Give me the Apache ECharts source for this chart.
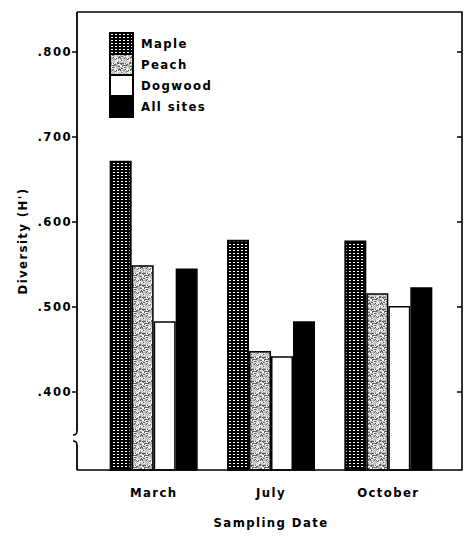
<!DOCTYPE html>
<html>
<head>
<meta charset="utf-8">
<script src="https://cdn.jsdelivr.net/npm/echarts@6/dist/echarts.min.js"></script>
<style>
  html, body { margin: 0; padding: 0; background: #fff; }
  #chart { width: 464px; height: 536px; }
  #chart text { letter-spacing: 1.4px; }
</style>
</head>
<body>
<div id="chart"></div>
<script>
// Shannon diversity (H') by sampling date and site
const categories = ['March', 'July', 'October'];
const seriesNames = ['Maple', 'Peach', 'Dogwood', 'All sites'];
const maple = [0.672, 0.579, 0.578];
const peach = [0.549, 0.448, 0.516];
const dogwood = [0.483, 0.442, 0.501];
const allSites = [0.545, 0.483, 0.523];
const yTicks = [0.4, 0.5, 0.6, 0.7, 0.8];
const yRange = [0.308, 0.847];

const FONT = "'Liberation Sans Narrow', 'DejaVu Sans Condensed', 'Arial Narrow', sans-serif";

// Black field with a grid of small white dots
function dotPattern() {
  const c = document.createElement('canvas');
  c.width = 4; c.height = 3;
  const g = c.getContext('2d');
  g.fillStyle = '#000';
  g.fillRect(0, 0, 4, 3);
  g.fillStyle = '#fff';
  g.fillRect(1, 1, 2, 1);
  return c;
}

// Light mottled grey stipple
function stipplePattern() {
  const n = 12;
  const c = document.createElement('canvas');
  c.width = n; c.height = n;
  const g = c.getContext('2d');
  g.fillStyle = '#fff';
  g.fillRect(0, 0, n, n);
  for (let y = 0; y < n; y++) {
    for (let x = 0; x < n; x++) {
      const h = (x * 7 + y * 13 + ((x * y) % 5) * 3 + (x ^ y)) % 9;
      if (h < 2) { g.fillStyle = '#606060'; g.fillRect(x, y, 1, 1); }
      else if (h < 5) { g.fillStyle = '#b4b4b4'; g.fillRect(x, y, 1, 1); }
      else if (h < 7) { g.fillStyle = '#dcdcdc'; g.fillRect(x, y, 1, 1); }
    }
  }
  return c;
}

const dotImg = dotPattern();
const stipImg = stipplePattern();

const styles = [
  { color: { image: dotImg, repeat: 'repeat', imageWidth: 4, imageHeight: 3 }, borderColor: '#000', borderWidth: 2 },
  { color: { image: stipImg, repeat: 'repeat', imageWidth: 12, imageHeight: 12 }, borderColor: '#000', borderWidth: 1.5 },
  { color: '#fff', borderColor: '#000', borderWidth: 1.5 },
  { color: '#000', borderColor: '#000', borderWidth: 1.5 }
];
const values = [maple, peach, dogwood, allSites];

// Frame geometry (plot box and left axis break)
const L = 77, R = 462, T = 12, B = 470;
const gridLeft = 95, gridRight = 17;

const chart = echarts.init(document.getElementById('chart'), null, { renderer: 'svg' });

chart.setOption({
  animation: false,
  backgroundColor: '#fff',
  textStyle: { fontFamily: FONT, fontWeight: 'bold', color: '#000' },
  grid: { left: gridLeft, right: gridRight, top: T, bottom: 536 - B, containLabel: false },
  legend: {
    orient: 'vertical',
    left: 109, top: 32,
    padding: 0,
    itemWidth: 23, itemHeight: 21, itemGap: -2,
    icon: 'rect',
    data: seriesNames,
    textStyle: { fontFamily: FONT, fontWeight: 'bold', fontSize: 13, lineHeight: 21, color: '#000', padding: [0, 0, 0, 3] }
  },
  xAxis: {
    type: 'category',
    data: categories,
    axisLine: { show: false },
    axisTick: { show: false },
    axisLabel: { margin: 16, fontSize: 13, fontWeight: 'bold', fontFamily: FONT, color: '#000' },
    name: 'Sampling Date',
    nameLocation: 'middle',
    nameGap: 46,
    nameTextStyle: { fontSize: 13, fontWeight: 'bold', fontFamily: FONT, color: '#000' }
  },
  yAxis: [
    {
      type: 'value',
      position: 'left',
      offset: gridLeft - L,
      min: yRange[0], max: yRange[1],
      splitLine: { show: false },
      axisLine: { show: false },
      axisTick: { show: true, length: 5, inside: false, customValues: yTicks, lineStyle: { color: '#000', width: 1.5 } },
      axisLabel: {
        customValues: yTicks,
        margin: 5,
        fontSize: 13,
        fontWeight: 'bold',
        fontFamily: FONT,
        color: '#000',
        formatter: v => '.' + Math.round(v * 1000)
      },
      name: "Diversity (H')",
      nameLocation: 'middle',
      nameGap: 48,
      nameRotate: 90,
      nameTextStyle: { fontSize: 13, fontWeight: 'bold', fontFamily: FONT, color: '#000' }
    },
    {
      type: 'value',
      position: 'right',
      offset: R - (464 - gridRight),
      min: yRange[0], max: yRange[1],
      splitLine: { show: false },
      axisLine: { show: false },
      axisTick: { show: true, length: 5, inside: true, customValues: yTicks, lineStyle: { color: '#000', width: 1.5 } },
      axisLabel: { show: false }
    }
  ],
  series: seriesNames.map((name, i) => ({
    name,
    type: 'bar',
    data: values[i],
    barWidth: 22,
    barGap: '0%',
    itemStyle: styles[i],
    emphasis: { disabled: true }
  })),
  graphic: [
    { type: 'polyline', z: 100, shape: { points: [[L, T], [R, T], [R, B], [L, B]] }, style: { stroke: '#000', lineWidth: 1.6, fill: null } },
    { type: 'polyline', z: 100, shape: { points: [[L, T], [L, 431]] }, style: { stroke: '#000', lineWidth: 1.8, fill: null } },
    { type: 'bezierCurve', z: 100, shape: { x1: L, y1: 431, cpx1: L, cpy1: 435, x2: L - 4, y2: 435 }, style: { stroke: '#000', lineWidth: 1.6, fill: null } },
    { type: 'bezierCurve', z: 100, shape: { x1: L - 4, y1: 441, cpx1: L, cpy1: 441, x2: L, y2: 445 }, style: { stroke: '#000', lineWidth: 1.6, fill: null } },
    { type: 'polyline', z: 100, shape: { points: [[L, 445], [L, B]] }, style: { stroke: '#000', lineWidth: 1.8, fill: null } }
  ]
});
</script>
</body>
</html>
